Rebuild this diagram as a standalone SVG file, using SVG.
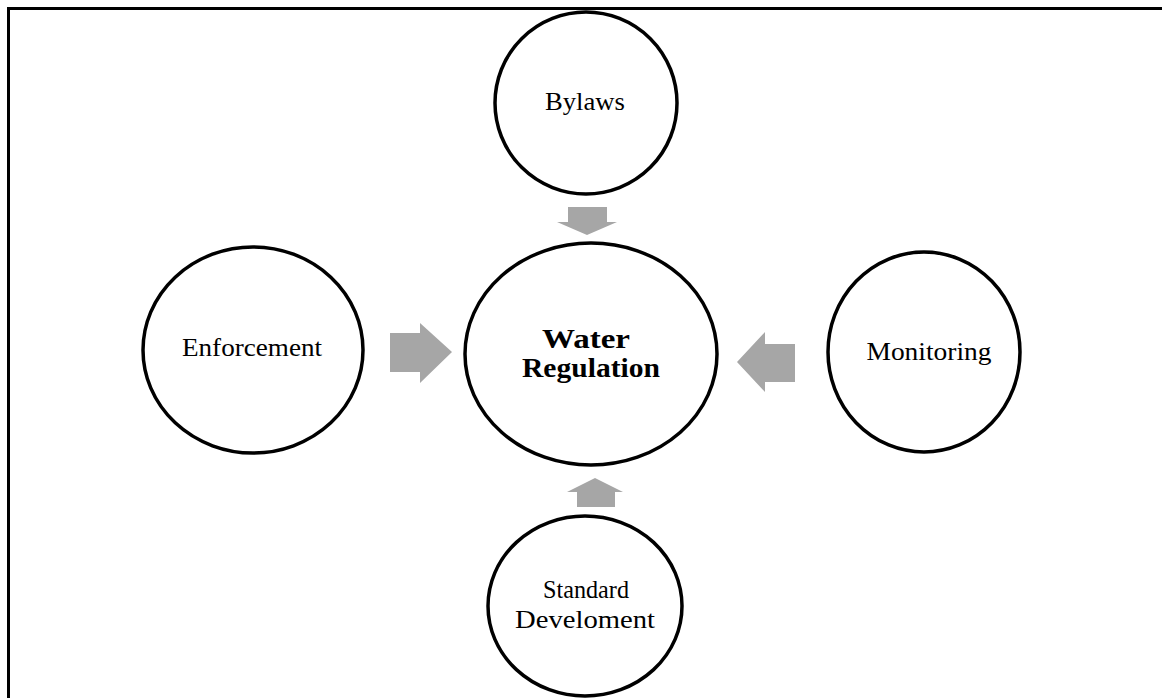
<svg xmlns="http://www.w3.org/2000/svg" width="1162" height="698" viewBox="0 0 1162 698">
<style>
.node{fill:#fff;stroke:#000;stroke-width:3.5}
.lbl{font-family:"Liberation Serif","Times New Roman",serif;font-size:26px;fill:#000;text-anchor:middle}
.bold{font-weight:bold;font-size:27px}
.arrow{fill:#a6a6a6}
</style>
<rect x="0" y="0" width="1162" height="698" fill="#fff"/>
<rect x="8.5" y="8.5" width="1170" height="710" fill="none" stroke="#000" stroke-width="3"/>
<g id="connectors">
<polygon class="arrow" points="568,207 607,207 607,222 617,222 587,235 557,222 568,222"/>
<polygon class="arrow" points="390,333 420,333 420,323 452,352 420,383 420,372 390,372"/>
<polygon class="arrow" points="795,344 765,344 765,332 737,362 765,392 765,382 795,382"/>
<polygon class="arrow" points="577,507 615,507 615,492 623,492 595,478 567,492 577,492"/>
</g>
<g id="bylaws">
<ellipse class="node" cx="586" cy="103" rx="91" ry="91"/>
<text class="lbl" x="585" y="110" textLength="80" lengthAdjust="spacingAndGlyphs">Bylaws</text>
</g>
<g id="water-regulation">
<ellipse class="node" cx="591" cy="354" rx="126" ry="111"/>
<text class="lbl bold" x="586" y="348" textLength="88" lengthAdjust="spacingAndGlyphs">Water</text>
<text class="lbl bold" x="591" y="377" textLength="138" lengthAdjust="spacingAndGlyphs">Regulation</text>
</g>
<g id="enforcement">
<ellipse class="node" cx="253" cy="350" rx="110" ry="103"/>
<text class="lbl" x="252" y="356" textLength="140" lengthAdjust="spacingAndGlyphs">Enforcement</text>
</g>
<g id="monitoring">
<ellipse class="node" cx="924" cy="352" rx="96" ry="100"/>
<text class="lbl" x="929" y="360" textLength="125" lengthAdjust="spacingAndGlyphs">Monitoring</text>
</g>
<g id="standard-development">
<ellipse class="node" cx="585" cy="606" rx="97" ry="90"/>
<text class="lbl" x="586" y="598" textLength="86" lengthAdjust="spacingAndGlyphs">Standard</text>
<text class="lbl" x="585" y="628" textLength="140" lengthAdjust="spacingAndGlyphs">Develoment</text>
</g>
</svg>
